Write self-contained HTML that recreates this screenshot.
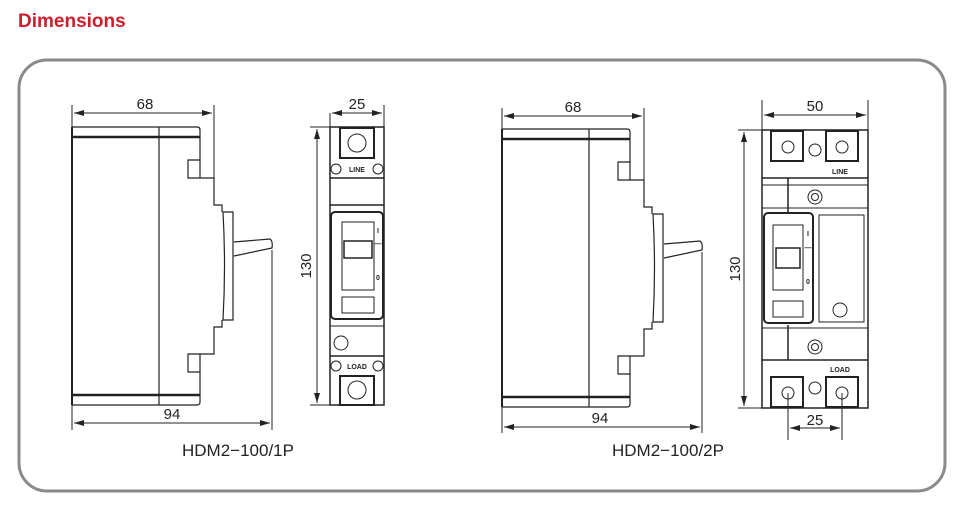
<!DOCTYPE html>
<html><head><meta charset="utf-8"><style>
body{margin:0;background:#fff;width:965px;height:513px;overflow:hidden;font-family:"Liberation Sans",sans-serif}
</style></head><body>
<svg width="965" height="513" viewBox="0 0 965 513" xmlns="http://www.w3.org/2000/svg">
<defs>
<marker id="a" viewBox="0 0 10 6" refX="10" refY="3" markerWidth="10" markerHeight="6" orient="auto-start-reverse" markerUnits="userSpaceOnUse"><path d="M0,0 L10,3 L0,6z" fill="#222"/></marker>
<g id="side" fill="none" stroke="#222" stroke-width="1.2">
  <path d="M72,127 H197 Q200,127 200,130 V160 H188 V178 H214 V205 H222 V212"/>
  <path d="M72,405 H197 Q200,405 200,402 V372 H188 V354 H214 V327 H222 V320"/>
  <line x1="200" y1="160" x2="200" y2="178"/><line x1="200" y1="354" x2="200" y2="372"/>
  <line x1="72" y1="127" x2="72" y2="405" stroke-width="2"/>
  <line x1="159" y1="127" x2="159" y2="405"/>
  <line x1="72" y1="137" x2="200" y2="137" stroke-width="2.5"/>
  <line x1="72" y1="395" x2="200" y2="395" stroke-width="2.5"/>
  <path d="M223,212 H233 V320 H223 Q226,266 223,212z"/>
  <path d="M234,242 L270,239 Q273,241 272,248 L234,256"/>
</g>
</defs>
<text x="18" y="27" font-size="19" font-weight="bold" fill="#cc1f2d">Dimensions</text>
<rect x="19" y="60" width="926" height="431" rx="28" fill="none" stroke="#8a8a8a" stroke-width="3"/>

<g stroke="#222" stroke-width="1" fill="none">
<!-- 1P side -->
<use href="#side"/>
<line x1="72" y1="105" x2="72" y2="127"/><line x1="214" y1="105" x2="214" y2="178"/>
<line x1="74" y1="113" x2="212" y2="113" marker-start="url(#a)" marker-end="url(#a)"/>
<line x1="72" y1="405" x2="72" y2="430"/><line x1="272" y1="250" x2="272" y2="430"/>
<line x1="74" y1="423" x2="270" y2="423" marker-start="url(#a)" marker-end="url(#a)"/>

<!-- 1P front -->
<rect x="330" y="127" width="54" height="278" stroke-width="1.5"/>
<line x1="330" y1="113" x2="330" y2="127"/><line x1="384" y1="105" x2="384" y2="127"/>
<line x1="332" y1="113" x2="382" y2="113" marker-start="url(#a)" marker-end="url(#a)"/>
<line x1="310" y1="127" x2="330" y2="127"/><line x1="310" y1="405" x2="330" y2="405"/>
<line x1="317" y1="129" x2="317" y2="403" marker-start="url(#a)" marker-end="url(#a)"/>
<path d="M340,128 H374 V158 H340z" stroke-width="2"/>
<circle cx="357" cy="143" r="9"/>
<circle cx="336" cy="169" r="5"/><circle cx="378" cy="169" r="5"/>
<line x1="330" y1="178" x2="384" y2="178" stroke-width="1.5"/>
<line x1="330" y1="205" x2="384" y2="205" stroke-width="1.5"/>
<rect x="331" y="212" width="52" height="107" rx="4" stroke-width="2"/>
<rect x="342" y="222" width="32" height="68"/>
<rect x="344" y="241" width="28" height="17" stroke-width="1.5"/>
<rect x="342" y="297" width="32" height="16"/>
<line x1="330" y1="326" x2="384" y2="326"/>
<circle cx="341" cy="343" r="7"/>
<line x1="330" y1="356" x2="384" y2="356" stroke-width="1.5"/>
<circle cx="336" cy="366" r="5"/><circle cx="378" cy="366" r="5"/>
<path d="M340,405 H374 V376 H340z" stroke-width="2"/>
<circle cx="357" cy="390" r="9"/>

<!-- 2P side -->
<use href="#side" transform="translate(430,2)"/>
<line x1="502" y1="108" x2="502" y2="129"/><line x1="644" y1="108" x2="644" y2="180"/>
<line x1="504" y1="116" x2="642" y2="116" marker-start="url(#a)" marker-end="url(#a)"/>
<line x1="502" y1="407" x2="502" y2="433"/><line x1="702" y1="252" x2="702" y2="433"/>
<line x1="504" y1="427" x2="700" y2="427" marker-start="url(#a)" marker-end="url(#a)"/>

<!-- 2P front -->
<rect x="762" y="130" width="106" height="278" stroke-width="1.5"/>
<line x1="762" y1="100" x2="762" y2="130"/><line x1="868" y1="100" x2="868" y2="130"/>
<line x1="764" y1="115" x2="866" y2="115" marker-start="url(#a)" marker-end="url(#a)"/>
<line x1="738" y1="130" x2="762" y2="130"/><line x1="738" y1="408" x2="762" y2="408"/>
<line x1="744" y1="132" x2="744" y2="406" marker-start="url(#a)" marker-end="url(#a)"/>
<path d="M771,131 H803 V161 H771z" stroke-width="2"/><circle cx="788" cy="147" r="6"/>
<path d="M826,131 H858 V161 H826z" stroke-width="2"/><circle cx="842" cy="147" r="6"/>
<circle cx="815" cy="150" r="6"/>
<line x1="762" y1="178" x2="868" y2="178" stroke-width="1.5"/>
<line x1="762" y1="185" x2="868" y2="185"/>
<line x1="788" y1="178" x2="788" y2="212" stroke-width="1.5"/>
<circle cx="815" cy="197" r="7"/><circle cx="815" cy="197" r="3.5"/>
<line x1="762" y1="208" x2="868" y2="208"/>
<rect x="764" y="213" width="49" height="110" rx="4" stroke-width="2"/>
<rect x="773" y="225" width="30" height="65"/>
<rect x="776" y="248" width="24" height="20" stroke-width="1.5"/>
<rect x="773" y="301" width="30" height="16"/>
<rect x="819" y="215" width="45" height="107"/>
<circle cx="840" cy="310" r="7"/>
<line x1="762" y1="328" x2="868" y2="328"/>
<line x1="788" y1="325" x2="788" y2="360" stroke-width="1.5"/>
<circle cx="815" cy="347" r="7"/><circle cx="815" cy="347" r="3.5"/>
<line x1="762" y1="360" x2="868" y2="360" stroke-width="1.5"/>
<path d="M771,407 H803 V377 H771z" stroke-width="2"/><circle cx="788" cy="393" r="6"/>
<path d="M826,407 H858 V377 H826z" stroke-width="2"/><circle cx="842" cy="393" r="6"/>
<circle cx="815" cy="388" r="6"/>
<line x1="788" y1="393" x2="788" y2="440"/><line x1="842" y1="393" x2="842" y2="440"/>
<line x1="790" y1="428" x2="840" y2="428" marker-start="url(#a)" marker-end="url(#a)"/>
</g>

<g font-size="15" fill="#222">
<text x="145" y="109" text-anchor="middle">68</text>
<text x="172" y="419" text-anchor="middle">94</text>
<text x="357" y="109" text-anchor="middle">25</text>
<text transform="translate(311,266) rotate(-90)" text-anchor="middle">130</text>
<text x="573" y="112" text-anchor="middle">68</text>
<text x="600" y="423" text-anchor="middle">94</text>
<text x="815" y="111" text-anchor="middle">50</text>
<text transform="translate(740,269) rotate(-90)" text-anchor="middle">130</text>
<text x="815" y="425" text-anchor="middle">25</text>
</g>
<g font-size="7" font-weight="bold" fill="#222" text-anchor="middle">
<text x="357" y="172">LINE</text><text x="357" y="369">LOAD</text>
<text x="840" y="174">LINE</text><text x="840" y="372">LOAD</text>
<text x="378" y="233">I</text><text x="378" y="246">—</text><text x="378" y="280">0</text>
<text x="808" y="236">I</text><text x="808" y="250">—</text><text x="808" y="284">0</text>
</g>
<g font-size="17" fill="#222">
<text x="182" y="456">HDM2−100/1P</text>
<text x="612" y="456">HDM2−100/2P</text>
</g>
</svg>
</body></html>
